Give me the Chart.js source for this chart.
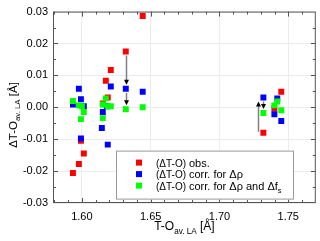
<!DOCTYPE html>
<html>
<head>
<meta charset="utf-8">
<script src="https://cdn.jsdelivr.net/npm/chart.js"></script>
<style>
html, body { margin: 0; padding: 0; background: #fff; }
</style>
</head>
<body>
<canvas id="chart" width="320" height="241"></canvas>
<script>
// values
const obsX = [1.5935, 1.5978, 1.5993, 1.6014, 1.6152, 1.6174, 1.6188, 1.6210, 1.6319, 1.6442, 1.7319, 1.7399, 1.7449];
const obsY = [-0.0206, -0.0178, -0.0105, -0.0145, 0.0012, 0.0083, 0.0031, 0.0117, 0.0175, 0.0286, -0.0080, -0.0004, 0.0049];

const rhoX = [1.5935, 1.5978, 1.5993, 1.5993, 1.6014, 1.6145, 1.6152, 1.6181, 1.6188, 1.6210, 1.6319, 1.6442, 1.7319, 1.7399, 1.7420, 1.7449];
const rhoY = [0.0009, 0.0058, 0.0025, -0.0098, 0.0003, -0.0065, -0.0015, 0.0003, -0.0117, 0.0065, 0.0058, 0.0049, 0.0031, -0.0022, 0.0028, -0.0043];

const fsX = [1.5935, 1.5978, 1.6000, 1.6014, 1.5993, 1.6152, 1.6152, 1.6174, 1.6188, 1.6210, 1.6319, 1.6442, 1.7319, 1.7399, 1.7420, 1.7449];
const fsY = [0.0020, 0.0006, 0.0003, -0.0015, -0.0037, 0.0009, -0.0034, 0.0028, 0.0003, 0.0003, -0.0006, 0.0000, -0.0018, 0.0006, 0.0018, -0.0009];

// arrows: x, from y, to y
const arrows = [
    [1.6319, 0.0175, 0.0058],
    [1.6319, 0.0058, -0.0006],
    [1.7319, -0.0080, 0.0031],
    [1.7319, 0.0031, -0.0018]
];

const xTicks = [1.60, 1.65, 1.70, 1.75];
const yTicks = [-0.03, -0.02, -0.01, 0.00, 0.01, 0.02, 0.03];
const seriesLabels = ['obs.', 'corr. for \u0394\u03c1', 'corr. for \u0394\u03c1 and \u0394f'];
const seriesColors = ['#ff0000', '#0000ff', '#00ff00'];

const FONT = '"Liberation Sans", Arial, sans-serif';

function pts(xs, ys) {
    return xs.map((x, i) => ({ x: x, y: ys[i] }));
}

// draw text made of normal and subscript pieces
function richText(ctx, parts, x, y, size, align) {
    const widths = parts.map(p => {
        ctx.font = (p[1] ? size * 0.68 : size) + 'px ' + FONT;
        return ctx.measureText(p[0]).width;
    });
    const total = widths.reduce((a, b) => a + b, 0);
    let cx = align === 'center' ? x - total / 2 : x;
    ctx.textAlign = 'left';
    ctx.textBaseline = 'alphabetic';
    parts.forEach((p, i) => {
        ctx.font = (p[1] ? size * 0.68 : size) + 'px ' + FONT;
        ctx.fillText(p[0], cx, p[1] ? y + size * 0.3 : y);
        cx += widths[i];
    });
}

const framePlugin = {
    id: 'frame',
    afterDraw(chart) {
        const ctx = chart.ctx;
        const ca = chart.chartArea;
        const xs = chart.scales.x, ys = chart.scales.y;
        ctx.save();

        // arrows
        arrows.forEach(a => {
            const up = a[2] > a[1];
            const px = Math.round(xs.getPixelForValue(a[0])) + (up ? -4.5 : 0.5);
            const p0 = ys.getPixelForValue(a[1]);
            const p1 = ys.getPixelForValue(a[2]);
            const dir = up ? -1 : 1;
            const start = p0 + dir * (up ? 1 : 4);
            const end = p1 - dir * 4;
            ctx.strokeStyle = '#808080';
            ctx.lineWidth = 1.5;
            ctx.beginPath();
            ctx.moveTo(px, start);
            ctx.lineTo(px, end - dir * 3);
            ctx.stroke();
            ctx.fillStyle = '#000';
            ctx.beginPath();
            ctx.moveTo(px, end);
            ctx.lineTo(px - 2.5, end - dir * 5);
            ctx.lineTo(px + 2.5, end - dir * 5);
            ctx.closePath();
            ctx.fill();
        });

        // frame
        ctx.strokeStyle = '#555';
        ctx.lineWidth = 1;
        ctx.strokeRect(ca.left + 0.5, ca.top + 0.5, ca.right - ca.left - 1, ca.bottom - ca.top - 1);

        // inward ticks on all four sides
        ctx.beginPath();
        for (let i = 158; i <= 177; i++) {
            const v = i / 100;
            const px = Math.round(xs.getPixelForValue(v)) + 0.5;
            if (px < ca.left + 1 || px > ca.right - 1) continue;
            const len = (i % 5 === 0) ? 5 : 3;
            ctx.moveTo(px, ca.bottom); ctx.lineTo(px, ca.bottom - len);
            ctx.moveTo(px, ca.top); ctx.lineTo(px, ca.top + len);
        }
        for (let i = -6; i <= 6; i++) {
            const v = i * 0.005;
            const py = Math.round(ys.getPixelForValue(v)) + 0.5;
            if (py < ca.top + 1 || py > ca.bottom - 1) continue;
            const len = (i % 2 === 0) ? 5 : 3;
            ctx.moveTo(ca.left, py); ctx.lineTo(ca.left + len, py);
            ctx.moveTo(ca.right, py); ctx.lineTo(ca.right - len, py);
        }
        ctx.stroke();

        // legend
        const lx = ca.left + 63, ly = ca.top + 139;
        ctx.fillStyle = '#fff';
        ctx.fillRect(lx, ly, 178, 49);
        ctx.strokeStyle = '#999';
        ctx.strokeRect(lx + 0.5, ly + 0.5, 177, 48);
        seriesLabels.forEach((lab, i) => {
            const cy = ly + 12 + i * 11.5;
            ctx.fillStyle = seriesColors[i];
            ctx.fillRect(lx + 20, cy - 3, 6, 6);
            ctx.fillStyle = '#000';
            richText(ctx, [['(\u0394T-O)', 0]], lx + 40, cy + 4, 10, 'left');
            const parts = [[lab, 0]];
            if (i === 2) parts.push(['s', 1]);
            richText(ctx, parts, lx + 73, cy + 4, 11, 'left');
        });

        // axis titles
        ctx.fillStyle = '#000';
        richText(ctx, [['T-O', 0], ['av. LA', 1], [' [\u00c5]', 0]], (ca.left + ca.right) / 2, 230, 12, 'center');
        ctx.translate(17, 115);
        ctx.rotate(-Math.PI / 2);
        richText(ctx, [['\u0394T-O', 0], ['av. LA', 1], [' [\u00c5]', 0]], 0, 0, 11.5, 'center');

        ctx.restore();
    }
};

const ctx = document.getElementById('chart').getContext('2d');
new Chart(ctx, {
    type: 'scatter',
    data: {
        datasets: [{
            label: seriesLabels[0],
            data: pts(obsX, obsY),
            backgroundColor: seriesColors[0],
            order: 3
        }, {
            label: seriesLabels[1],
            data: pts(rhoX, rhoY),
            backgroundColor: seriesColors[1],
            order: 2
        }, {
            label: seriesLabels[2],
            data: pts(fsX, fsY),
            backgroundColor: seriesColors[2],
            order: 1
        }]
    },
    options: {
        responsive: false,
        animation: false,
        events: [],
        elements: {
            point: {
                pointStyle: 'rect',
                radius: 4.2,
                hoverRadius: 4.2,
                borderWidth: 0
            }
        },
        layout: {
            padding: { top: 8, right: 3, left: 0, bottom: 0 }
        },
        plugins: {
            legend: { display: false },
            tooltip: { enabled: false }
        },
        scales: {
            x: {
                type: 'linear',
                min: 1.579,
                max: 1.770,
                afterBuildTicks: s => { s.ticks = xTicks.map(v => ({ value: v })); },
                afterFit: s => { s.height = 38; },
                grid: { color: '#ececec', drawTicks: false },
                border: { display: false },
                ticks: {
                    padding: 7,
                    color: '#000',
                    maxRotation: 0,
                    autoSkip: false,
                    font: { family: FONT, size: 11 },
                    callback: v => v.toFixed(2)
                }
            },
            y: {
                type: 'linear',
                min: -0.03,
                max: 0.03,
                afterBuildTicks: s => { s.ticks = yTicks.map(v => ({ value: v })); },
                afterFit: s => { s.width = 53; },
                grid: { color: '#ececec', drawTicks: false },
                border: { display: false },
                ticks: {
                    padding: 5,
                    color: '#000',
                    autoSkip: false,
                    font: { family: FONT, size: 11 },
                    callback: v => v.toFixed(2)
                }
            }
        }
    },
    plugins: [framePlugin]
});
</script>
</body>
</html>
